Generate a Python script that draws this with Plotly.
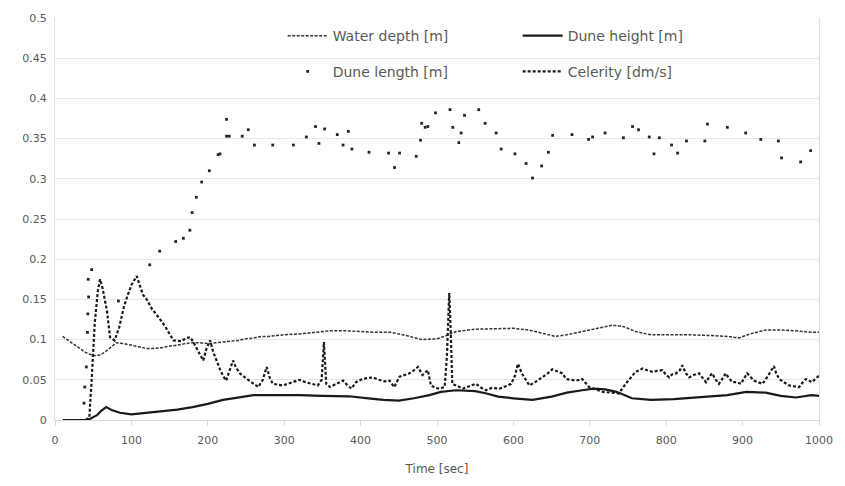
import plotly.graph_objects as go

# ---- data ----
wd_t = [10, 20, 30, 40, 50, 60, 70, 80, 90, 100, 110, 120, 130, 140, 150, 160, 170, 180, 190, 200,
        210, 220, 230, 240, 250, 260, 270, 280, 290, 300, 320, 340, 360, 380, 400, 420, 440, 460, 480,
        500, 510, 525, 550, 580, 600, 620, 640, 655, 670, 690, 710, 730, 745, 760, 780, 800, 830, 860,
        880, 895, 910, 930, 950, 970, 990, 1000]
wd_v = [0.104, 0.097, 0.090, 0.084, 0.080, 0.081, 0.088, 0.096, 0.095, 0.093, 0.091, 0.089, 0.089,
        0.090, 0.092, 0.093, 0.095, 0.096, 0.096, 0.095, 0.096, 0.097, 0.098, 0.099, 0.101, 0.102,
        0.104, 0.104, 0.105, 0.106, 0.107, 0.109, 0.111, 0.111, 0.110, 0.109, 0.109, 0.105, 0.100,
        0.101, 0.104, 0.110, 0.113, 0.114, 0.114, 0.112, 0.107, 0.104, 0.106, 0.110, 0.114, 0.118,
        0.116, 0.110, 0.106, 0.106, 0.106, 0.105, 0.104, 0.102, 0.107, 0.112, 0.112, 0.111, 0.109, 0.109]

dh_t = [10, 20, 30, 40, 45, 50, 55, 60, 67, 75, 85, 100, 120, 140, 160, 180, 200, 220, 240, 260, 280,
        300, 320, 350, 385, 410, 430, 450, 470, 490, 505, 525, 550, 565, 580, 600, 625, 650, 670, 690,
        705, 720, 735, 755, 780, 810, 840, 860, 880, 905, 930, 950, 970, 990, 1000]
dh_v = [0, 0, 0, 0, 0.001, 0.003, 0.006, 0.011, 0.016, 0.012, 0.009, 0.007, 0.009, 0.011, 0.013, 0.016,
        0.020, 0.025, 0.028, 0.031, 0.031, 0.031, 0.031, 0.030, 0.0295, 0.027, 0.025, 0.024, 0.027,
        0.031, 0.035, 0.037, 0.036, 0.033, 0.029, 0.027, 0.025, 0.029, 0.034, 0.037, 0.039, 0.038,
        0.035, 0.027, 0.025, 0.026, 0.028, 0.030, 0.031, 0.035, 0.034, 0.030, 0.028, 0.031, 0.030]

dl_t = [38, 39, 41, 42.5, 43, 44, 43.5, 48, 83, 124, 137, 158, 168, 176.5, 179.5, 185, 192, 202, 213.5,
        216, 224.5, 224.5, 228, 245, 253, 261, 285, 312, 329, 341, 345.5, 353, 369.5, 377, 384, 388.6,
        411, 436.6, 444.4, 451, 472.8, 478.4, 480, 484.5, 488, 498, 517, 520.7, 528.5, 531.6, 536,
        554.6, 563, 577.4, 584, 602, 616.6, 625, 637, 645.8, 651.4, 676.7, 698.4, 703.7, 720, 744,
        755.9, 763.8, 777.8, 784, 791, 807, 815, 826.5, 850.6, 854, 880, 904, 923.8, 946.8, 951, 976, 989]
dl_v = [0.021, 0.041, 0.066, 0.109, 0.132, 0.153, 0.175, 0.187, 0.148, 0.193, 0.210, 0.222, 0.226,
        0.236, 0.258, 0.277, 0.296, 0.310, 0.330, 0.331, 0.353, 0.374, 0.353, 0.353, 0.361, 0.342,
        0.342, 0.342, 0.352, 0.365, 0.344, 0.362, 0.355, 0.342, 0.359, 0.337, 0.333, 0.332, 0.314,
        0.332, 0.328, 0.348, 0.369, 0.364, 0.365, 0.382, 0.386, 0.364, 0.345, 0.357, 0.379, 0.386,
        0.369, 0.357, 0.337, 0.331, 0.319, 0.301, 0.316, 0.333, 0.354, 0.355, 0.349, 0.352, 0.357,
        0.351, 0.365, 0.361, 0.352, 0.331, 0.351, 0.342, 0.332, 0.347, 0.347, 0.368, 0.364, 0.357,
        0.349, 0.347, 0.326, 0.321, 0.335]

ce_t = [40, 45, 48, 52, 56, 59, 62, 65, 68, 72, 78, 84, 90, 94, 100, 107, 112, 115, 120, 127, 137, 145,
        155, 165, 172, 177, 181, 185, 190, 194, 198, 203, 207, 211, 216, 220, 224, 228, 233, 237, 242,
        250, 258, 266, 272, 277, 281, 285, 292, 298, 305, 311, 320, 328, 338, 344, 349, 352, 355, 360,
        364, 370, 377, 382, 388, 394, 400, 408, 416, 424, 431, 438, 444, 451, 458, 464, 470, 475, 481,
        485, 488, 492, 498, 503, 510, 513, 516, 518, 520, 527, 534, 542, 551, 558, 564, 572, 582, 590,
        597, 602, 606, 611, 616, 621, 630, 638, 645, 651, 658, 664, 669, 675, 682, 690, 699, 708, 717,
        728, 738, 747, 753, 760, 765, 769, 775, 782, 788, 795, 800, 804, 808, 813, 818, 821, 826, 830,
        836, 843, 848, 852, 856, 860, 865, 869, 874, 878, 882, 887, 892, 898, 902, 906, 911, 915, 920,
        926, 932, 936, 941, 944, 948, 954, 961, 967, 974, 978, 983, 987, 991, 996, 1000]
ce_v = [0, 0.004, 0.05, 0.12, 0.16, 0.175, 0.165, 0.15, 0.136, 0.103, 0.099, 0.115, 0.14, 0.152, 0.168,
        0.179, 0.165, 0.156, 0.15, 0.138, 0.126, 0.115, 0.099, 0.098, 0.102, 0.103, 0.097, 0.09, 0.082,
        0.074, 0.088, 0.099, 0.085, 0.074, 0.063, 0.055, 0.049, 0.06, 0.074, 0.065, 0.058, 0.052, 0.046,
        0.041, 0.05, 0.066, 0.053, 0.045, 0.044, 0.043, 0.045, 0.047, 0.05, 0.047, 0.045, 0.043, 0.05,
        0.097, 0.045, 0.041, 0.043, 0.046, 0.049, 0.044, 0.039, 0.047, 0.05, 0.052, 0.053, 0.05, 0.048,
        0.049, 0.041, 0.054, 0.056, 0.058, 0.062, 0.066, 0.056, 0.06, 0.062, 0.043, 0.04, 0.039, 0.041,
        0.08, 0.158, 0.11, 0.045, 0.042, 0.039, 0.042, 0.045, 0.04, 0.037, 0.04, 0.039, 0.042, 0.045,
        0.055, 0.07, 0.058, 0.05, 0.043, 0.048, 0.053, 0.058, 0.063, 0.06, 0.058, 0.051, 0.05, 0.049,
        0.051, 0.041, 0.038, 0.035, 0.034, 0.033, 0.045, 0.052, 0.06, 0.062, 0.064, 0.062, 0.06, 0.061,
        0.062, 0.056, 0.053, 0.057, 0.058, 0.062, 0.068, 0.058, 0.053, 0.056, 0.058, 0.052, 0.047, 0.053,
        0.058, 0.05, 0.045, 0.052, 0.058, 0.052, 0.047, 0.047, 0.045, 0.052, 0.058, 0.053, 0.049, 0.047,
        0.045, 0.053, 0.06, 0.067, 0.058, 0.051, 0.047, 0.043, 0.042, 0.041, 0.046, 0.051, 0.049, 0.047,
        0.052, 0.055]

names = ["Water depth [m]", "Dune height [m]", "Dune length [m]", "Celerity [dm/s]"]
x_ticks = [0, 100, 200, 300, 400, 500, 600, 700, 800, 900, 1000]

FONT = "DejaVu Sans"
GREY = "#595959"

fig = go.Figure()
fig.add_trace(go.Scatter(x=wd_t, y=wd_v, mode="lines", name=names[0], legend="legend",
                         line=dict(color="#333333", width=1.5, dash="3px,1.5px")))
fig.add_trace(go.Scatter(x=dh_t, y=dh_v, mode="lines", name=names[1], legend="legend",
                         line=dict(color="#1a1a1a", width=2.2)))
fig.add_trace(go.Scatter(x=dl_t, y=dl_v, mode="markers", name=names[2], legend="legend2",
                         marker=dict(color="#262626", size=2.8, symbol="square")))
fig.add_trace(go.Scatter(x=ce_t, y=ce_v, mode="lines", name=names[3], legend="legend2",
                         line=dict(color="#1a1a1a", width=2.2, dash="3px,2px")))

legend_common = dict(orientation="h", xanchor="left", yanchor="middle", bgcolor="rgba(0,0,0,0)",
                     font=dict(family=FONT, size=14, color=GREY), entrywidth=180,
                     itemwidth=40, traceorder="normal")

fig.update_layout(
    width=845, height=486,
    margin=dict(l=55, r=25, t=15, b=66),
    plot_bgcolor="white", paper_bgcolor="white",
    font=dict(family=FONT, size=11, color=GREY),
    showlegend=True,
    legend=dict(x=0.298, y=0.955, **legend_common),
    legend2=dict(x=0.298, y=0.866, **legend_common),
    xaxis=dict(range=[0, 1000], tickvals=x_ticks, showgrid=False, zeroline=False,
               showline=True, linecolor="#d9d9d9", linewidth=1,
               ticks="outside", ticklen=5, tickcolor="#d9d9d9", ticklabelstandoff=5,
               tickfont=dict(family=FONT, size=11, color=GREY),
               title=dict(text="Time [sec]", font=dict(family=FONT, size=12, color=GREY), standoff=18)),
    yaxis=dict(range=[0, 0.5], dtick=0.05, showgrid=True, gridcolor="#e8e8e8", zeroline=False,
               showline=True, mirror=True, linecolor="#e0e0e0", linewidth=1,
               ticks="", tickfont=dict(family=FONT, size=11, color=GREY), ticklabelstandoff=5),
)

fig.write_html("out.html")
